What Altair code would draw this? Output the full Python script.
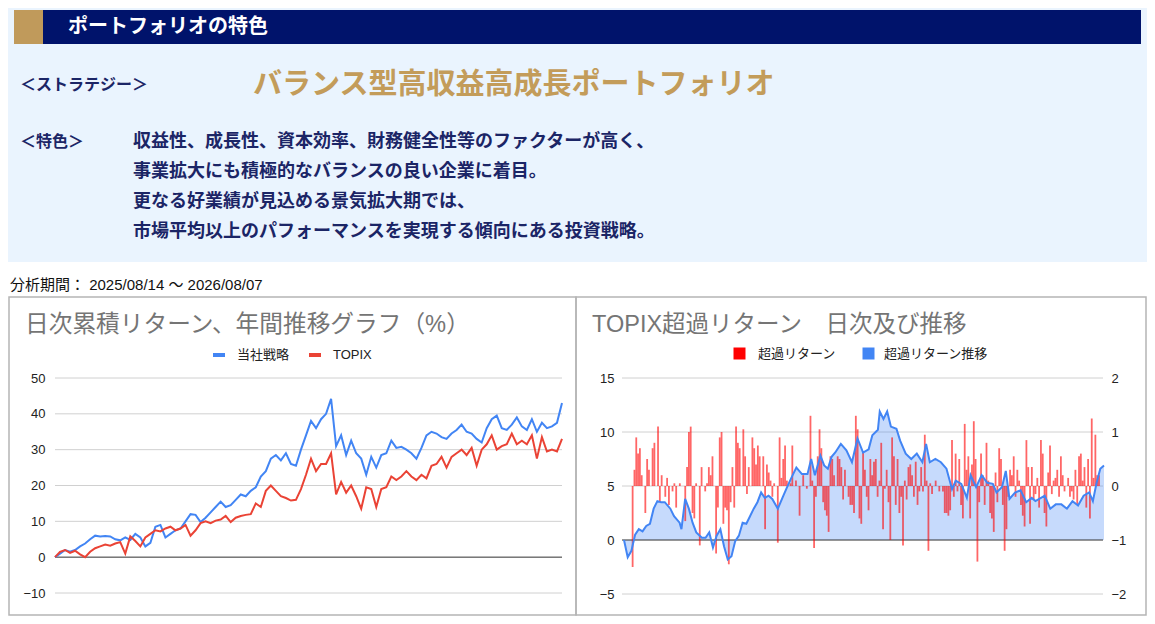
import altair as alt
import pandas as pd

FONT = "Liberation Sans, Noto Sans CJK JP"

# ---------------- texts ----------------
header_title = "ポートフォリオの特色"
strategy_label = "＜ストラテジー＞"
strategy_name = "バランス型高収益高成長ポートフォリオ"
feature_label = "＜特色＞"
feature_lines = [
    "収益性、成長性、資本効率、財務健全性等のファクターが高く、",
    "事業拡大にも積極的なバランスの良い企業に着目。",
    "更なる好業績が見込める景気拡大期では、",
    "市場平均以上のパフォーマンスを実現する傾向にある投資戦略。",
]
period_text = "分析期間： 2025/08/14 〜 2026/08/07"
left_title = "日次累積リターン、年間推移グラフ（%）"
right_title = "TOPIX超過リターン　日次及び推移"

# ---------------- left chart data (cumulative return, %) ----------------
series_names = ["当社戦略", "TOPIX"]
strategy = [0.0, 1.0, 2.0, 1.5, 2.0, 3.0, 3.8, 5.0, 6.0, 5.8, 5.9, 5.8, 5.0, 4.7, 5.5, 4.8,
            6.5, 5.5, 3.0, 4.0, 8.5, 9.0, 5.5, 6.5, 7.5, 8.0, 10.0, 12.0, 11.8, 9.8, 11.0, 12.5,
            14.0, 15.5, 14.0, 14.5, 16.0, 17.5, 17.0, 18.5, 19.5, 22.5, 24.0, 27.5, 28.5, 27.0,
            29.0, 26.0, 25.5, 30.0, 34.0, 38.0, 36.0, 38.5, 40.0, 44.2, 31.0, 34.0, 28.5, 32.5,
            29.0, 27.5, 23.0, 28.0, 25.0, 28.5, 29.0, 32.5, 30.5, 30.8, 30.0, 29.0, 27.5, 30.5,
            34.0, 35.0, 34.5, 33.5, 33.0, 34.5, 35.5, 37.0, 35.0, 34.5, 33.0, 32.0, 36.0, 38.5,
            39.5, 36.0, 35.5, 37.0, 39.0, 36.5, 35.5, 38.5, 35.0, 37.5, 36.0, 36.5, 37.5, 43.0]
topix = [0.0, 1.5, 2.0, 1.2, 1.8, 0.8, 0.0, 1.5, 2.5, 3.0, 3.5, 3.2, 3.8, 4.2, 1.0, 5.8,
         4.5, 3.0, 5.5, 6.5, 7.5, 7.2, 8.0, 8.5, 7.5, 8.0, 9.0, 6.0, 7.5, 9.5, 10.0, 9.5,
         10.2, 10.5, 11.5, 9.8, 11.0, 11.5, 11.8, 12.0, 15.0, 14.0, 18.5, 20.0, 18.5, 17.0,
         16.5, 15.8, 16.0, 19.0, 23.0, 27.5, 24.0, 26.0, 26.0, 29.0, 17.5, 21.0, 18.0, 20.0,
         17.0, 13.5, 19.5, 19.0, 14.0, 19.0, 19.5, 22.5, 21.5, 22.5, 24.0, 22.5, 21.5, 23.0,
         22.0, 25.5, 26.0, 28.0, 25.0, 28.0, 29.0, 30.0, 28.5, 30.5, 25.5, 30.0, 31.5, 34.0,
         30.0, 31.0, 31.5, 34.5, 31.5, 32.5, 31.5, 34.0, 27.5, 33.5, 29.5, 30.0, 29.5, 33.0]
left_ticks = [-10, 0, 10, 20, 30, 40, 50]

# ---------------- right chart data ----------------
excess_names = ["超過リターン", "超過リターン推移"]
# daily excess return (right axis) : day index, value
bar_t = [2, 3, 4, 5, 6, 7, 9, 10, 11, 13, 14, 16, 17, 18, 20, 21, 22, 24, 25, 26, 28, 31, 32, 33,
         34, 35, 36, 37, 39, 40, 42, 43, 44, 45, 46, 48, 49, 50, 51, 52, 53, 54, 55, 56, 57, 58,
         59, 60, 61, 63, 64, 65, 66, 68, 69, 70, 71, 72, 74, 75, 76, 77, 78, 79, 80, 82, 83, 84,
         85, 86, 87, 89, 90, 92, 94, 96, 98, 100, 101, 102, 103, 104, 105, 106, 107, 108, 109,
         110, 111, 112, 113, 115, 116, 117, 118, 119, 121, 122, 123, 124, 125, 126, 127, 128,
         129, 130, 131, 132, 133, 134, 135, 136, 137, 138, 139, 140, 141, 142, 143, 144, 145,
         146, 147, 148, 149, 150, 151, 152, 153, 154, 155, 156, 157, 158, 159, 160, 161, 162,
         163, 164, 165, 166, 167, 169, 171, 173, 174, 175, 176, 177, 178, 179, 180, 181, 182,
         183, 184, 185, 186, 187, 188, 189, 190, 191, 192, 193, 194, 195, 196, 197, 198, 199,
         200, 201, 202, 203, 204, 205, 206, 207, 208, 209, 210, 211, 212, 213, 214, 215, 216,
         217, 218, 219, 220, 221, 222, 223, 224, 225, 226, 227, 228, 229, 230, 231, 232, 233,
         234, 235, 236, 237, 238, 239, 240, 242, 243, 244, 245, 246, 247, 248, 249, 250, 251,
         252, 253, 254, 255, 256, 257, 258, 259]
bar_v = [-1.5, 0.3, 0.9, 0.6, 0.7, 0.2, -0.5, 0.5, 0.3, 0.7, 0.8, 1.1, -0.3, 0.2, -0.2, 0.15,
         -0.35, -0.1, 0.05, -0.4, 0.05, -0.65, 0.35, 1.0, 1.1, -0.5, -0.6, 0.05, -1.1, 0.35,
         -0.1, 0.05, 0.35, 0.2, 0.55, -1.25, -0.4, 0.9, 1.0, -0.7, -0.4, -0.45, -1.45, -0.3,
         0.35, -0.4, 1.1, 0.8, 0.7, 1.05, 0.55, -0.15, 0.35, 0.9, 0.7, 0.4, 0.75, 0.55, 0.55,
         -0.8, 0.4, 0.25, 0.1, -0.2, 0.05, -1.05, 0.9, 0.15, 0.5, 0.75, 0.1, 0.05, 0.75, 0.1,
         -0.55, 0.2, -0.05, 1.3, 0.1, -1.15, -0.2, 0.55, 1.05, 0.7, -0.3, -0.45, -0.55, -0.85,
         0.55, 0.5, 0.2, 0.55, 0.5, 0.35, -0.25, 0.3, -0.2, -0.35, -0.35, -0.5, 1.3, 1.05,
         -0.6, -0.7, 0.65, 0.3, -0.2, -0.45, 0.5, 0.2, 0.45, 0.5, -0.2, 0.1, 0.8, -0.8, -0.05,
         0.3, -0.3, -1.0, 0.9, 0.55, -0.35, 0.5, -0.5, -0.2, -1.1, 0.1, -0.25, 0.35, 0.4, 0.2,
         -0.2, 0.45, -0.35, -0.1, 0.35, -0.1, 0.95, 0.1, -1.2, 0.05, -0.15, 0.1, -0.1, -0.1,
         -0.5, -0.5, -0.55, -0.45, 0.85, -0.2, 0.6, -0.1, 0.5, -0.35, -0.6, 1.15, 0.3, 0.55,
         -0.6, 0.4, 1.2, 0.5, -1.4, -0.3, 0.6, 0.2, -0.35, 0.8, 0.1, -0.5, -0.6, -0.85, 0.25,
         -0.3, 0.7, 0.5, -0.35, -1.2, -0.8, -0.2, 0.3, 0.2, 0.55, -0.2, 0.3, 0.1, -0.35, -0.55,
         -0.75, 0.85, 0.35, -0.7, 0.35, -0.25, -0.15, 0.15, -0.4, 0.85, 0.6, -0.5, -0.75, 0.25,
         0.75, -0.15, 0.1, 0.15, 0.3, -0.2, 0.55, 0.2, -0.1, 0.15, -0.2, -0.1, -0.25, 0.3,
         -0.35, 0.55, 0.6, 0.1, 0.35, -0.4, 0.5, -0.6, 1.25, 0.15, 0.95, 0.2, 0.2]
# cumulative excess return (left axis) : day index, value
cum_t = [0, 2, 4, 6, 8, 10, 12, 14, 16, 18, 20, 22, 25, 27, 30, 31, 33, 35, 37, 39, 42, 44, 46,
         48, 50, 52, 54, 56, 58, 60, 62, 64, 66, 68, 70, 72, 74, 76, 78, 80, 83, 86, 88, 91, 93,
         96, 99, 101, 103, 106, 108, 110, 112, 114, 117, 120, 123, 126, 129, 132, 134, 137, 138,
         140, 142, 144, 147, 149, 152, 155, 158, 161, 163, 165, 168, 171, 174, 177, 179, 182,
         185, 187, 190, 193, 196, 199, 201, 204, 206, 208, 211, 214, 217, 220, 222, 225, 227,
         230, 233, 236, 239, 242, 245, 248, 251, 253, 255, 257, 259]
cum_v = [0.0, -1.6, -1.0, 0.5, 1.0, 0.8, 1.3, 1.5, 2.9, 3.6, 3.5, 3.5, 2.9, 2.2, 1.6, 1.0, 3.8,
         2.9, 1.6, 0.7, 0.2, 0.2, 0.7, -0.7, 0.4, 1.0, -0.6, -1.8, -1.5, -0.1, 0.4, 1.6, 1.5,
         2.2, 2.9, 3.5, 4.4, 3.9, 4.1, 3.8, 2.9, 4.1, 4.9, 6.0, 6.7, 6.1, 6.1, 7.5, 6.0, 7.8,
         6.9, 6.6, 7.7, 8.1, 8.9, 8.3, 7.2, 9.4, 8.1, 8.4, 9.7, 10.2, 11.9, 11.2, 11.9, 10.5,
         10.3, 9.2, 8.0, 7.5, 8.0, 7.2, 8.9, 7.2, 7.5, 7.2, 6.6, 4.7, 5.5, 5.2, 3.9, 6.0, 4.9,
         6.0, 5.3, 5.2, 4.4, 4.9, 6.4, 3.8, 4.4, 4.6, 3.5, 3.9, 3.6, 3.9, 4.1, 2.9, 3.3, 3.3,
         2.9, 3.6, 3.2, 4.1, 4.4, 3.6, 5.3, 6.6, 6.9]
right_ticks_left = [-5, 0, 5, 10, 15]
right_ticks_right = [-2, -1, 0, 1, 2]

# ---------------- helpers ----------------
one = pd.DataFrame({"a": [0]})


def rect(x1, x2, y1, y2, **kw):
    return alt.Chart(one).mark_rect(**kw).encode(
        x=alt.value(x1), x2=alt.value(x2), y=alt.value(y1), y2=alt.value(y2))


def text(s, x, y, size, color, weight="normal"):
    return alt.Chart(pd.DataFrame({"t": [s]})).mark_text(
        align="left", baseline="middle", font=FONT, fontSize=size,
        color=color, fontWeight=weight).encode(
        x=alt.value(x), y=alt.value(y), text="t:N")


NAVY_TXT = "#1b2566"
axis_style = dict(grid=False, ticks=False, domain=False, labelFont=FONT,
                  labelFontSize=13, labelColor="#222222", title=None)

layers = []
# top panel
layers.append(rect(0, 1140, 0, 254, color="#eaf4fe"))
layers.append(rect(6, 1133, 2, 36, color="#00136b"))
layers.append(rect(6, 35, 2, 36, color="#c09a5b"))
layers.append(text(header_title, 60, 19, 20, "white", "bold"))
layers.append(text(strategy_label, 12, 77, 16, NAVY_TXT, "bold"))
layers.append(text(strategy_name, 245, 77, 29, "#c39c5a", "bold"))
layers.append(text(feature_label, 12, 134, 16, NAVY_TXT, "bold"))
for k, line in enumerate(feature_lines):
    layers.append(text(line, 125, 134 + 30 * k, 18, NAVY_TXT, "bold"))
layers.append(text(period_text, 2, 277, 15, "#111111"))

# chart boxes
layers.append(rect(1, 568, 289, 607, filled=False, stroke="#b5b5b5", strokeWidth=1.5))
layers.append(rect(568, 1138, 289, 607, filled=False, stroke="#b5b5b5", strokeWidth=1.5))
layers.append(text(left_title, 17, 317, 23.7, "#757575"))
layers.append(text(right_title, 584, 317, 23.5, "#757575"))

# ---------------- left chart ----------------
N = len(strategy)
lx = alt.Scale(domain=[0, N - 1], range=[47, 554], nice=False, zero=False)


def ly():
    return alt.Scale(domain=[-10, 50], range=[585, 370], nice=False, zero=False)


layers.append(alt.Chart(pd.DataFrame({"v": left_ticks})).mark_rule(color="#d0d0d0").encode(
    y=alt.Y("v:Q", scale=ly(), axis=alt.Axis(orient="left", offset=-47, values=left_ticks,
                                             labelPadding=10, **axis_style)),
    x=alt.value(47), x2=alt.value(554)))
layers.append(alt.Chart(pd.DataFrame({"v": [0]})).mark_rule(color="#444444").encode(
    y=alt.Y("v:Q", scale=ly(), axis=None), x=alt.value(47), x2=alt.value(554)))
left_df = pd.DataFrame({
    "i": list(range(N)) * 2,
    "v": strategy + topix,
    "s": [series_names[0]] * N + [series_names[1]] * N,
})
layers.append(alt.Chart(left_df).mark_line(strokeWidth=2).encode(
    x=alt.X("i:Q", scale=lx, axis=None),
    y=alt.Y("v:Q", scale=ly(), axis=None),
    color=alt.Color("s:N", scale=alt.Scale(domain=series_names, range=["#4285f4", "#ea4335"]),
                    sort=series_names,
                    legend=alt.Legend(title=None, orient="none", legendX=203, legendY=339,
                                      direction="horizontal", symbolType="stroke",
                                      symbolStrokeWidth=4, symbolSize=144, labelFont=FONT,
                                      labelFontSize=13, labelColor="#222222", labelOffset=10,
                                      columnPadding=11, padding=0)),
))

# ---------------- right chart ----------------
def rx():
    return alt.Scale(domain=[0, 259], range=[616, 1096], nice=False, zero=False)


def ryl():
    return alt.Scale(domain=[-5, 15], range=[586, 370], nice=False, zero=False)


def ryr():
    return alt.Scale(domain=[-2, 2], range=[586, 370], nice=False, zero=False)


layers.append(alt.Chart(pd.DataFrame({"v": right_ticks_left})).mark_rule(color="#d0d0d0").encode(
    y=alt.Y("v:Q", scale=ryl(), axis=alt.Axis(orient="left", offset=-614, values=right_ticks_left,
                                              labelPadding=8, **axis_style)),
    x=alt.value(614), x2=alt.value(1095)))
cum_df = pd.DataFrame({"t": cum_t, "v": cum_v, "s": [excess_names[1]] * len(cum_t)})
layers.append(alt.Chart(cum_df).mark_area(opacity=0.3).encode(
    x=alt.X("t:Q", scale=rx(), axis=None),
    y=alt.Y("v:Q", scale=ryl(), axis=None),
    y2=alt.datum(0),
    color=alt.Color("s:N", scale=alt.Scale(domain=[excess_names[1]], range=["#4285f4"]),
                    legend=alt.Legend(title=None, orient="none", legendX=854, legendY=339,
                                      symbolType="square", symbolSize=144, symbolOpacity=1,
                                      symbolStrokeWidth=0, labelFont=FONT, labelFontSize=13,
                                      labelColor="#222222", labelOffset=9, padding=0)),
))
layers.append(alt.Chart(pd.DataFrame({"v": [0]})).mark_rule(color="#444444").encode(
    y=alt.Y("v:Q", scale=ryl(), axis=None), x=alt.value(614), x2=alt.value(1095)))
bar_df = pd.DataFrame({"t": bar_t, "v": bar_v, "s": [excess_names[0]] * len(bar_t)})
layers.append(alt.Chart(bar_df).mark_bar(size=1.8, opacity=0.6).encode(
    x=alt.X("t:Q", scale=rx(), axis=None),
    y=alt.Y("v:Q", scale=ryr(), axis=alt.Axis(orient="right", offset=-44, values=right_ticks_right,
                                              labelPadding=8, **axis_style)),
    y2=alt.datum(0),
    color=alt.Color("s:N", scale=alt.Scale(domain=[excess_names[0]], range=["#ff0000"]),
                    legend=alt.Legend(title=None, orient="none", legendX=725, legendY=339,
                                      symbolType="square", symbolSize=144, symbolOpacity=1,
                                      symbolStrokeWidth=0, labelFont=FONT, labelFontSize=13,
                                      labelColor="#222222", labelOffset=12, padding=0)),
))
layers.append(alt.Chart(cum_df).mark_line(color="#4285f4", strokeWidth=2).encode(
    x=alt.X("t:Q", scale=rx(), axis=None),
    y=alt.Y("v:Q", scale=ryl(), axis=None),
))

chart = alt.layer(*layers).resolve_scale(
    x="independent", y="independent", color="independent"
).properties(
    width=1139, height=608, padding=0, autosize=alt.AutoSizeParams(type="none")
).configure_view(stroke=None)

chart.save("out.html", embed_options={"renderer": "svg", "actions": False})
